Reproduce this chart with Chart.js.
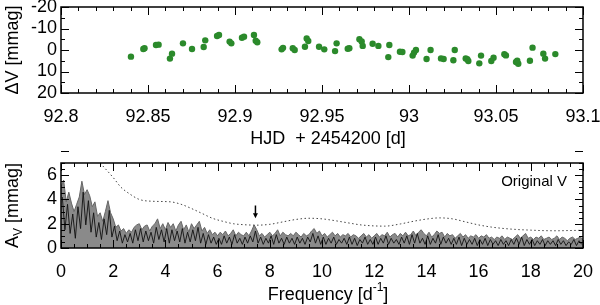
<!DOCTYPE html>
<html lang="en">
<head>
<meta charset="UTF-8">
<script src="https://cdn.jsdelivr.net/npm/chart.js"></script>
<title>Light curve and amplitude spectrum</title>
<style>
  body { margin: 0; background: #fff; }
  #wrap { position: relative; width: 600px; height: 305px; overflow: hidden; }
  canvas { position: absolute; left: 0; }
</style>
</head>
<body>
<div id="wrap">
  <canvas id="lc" width="600" height="150" style="top:0"></canvas>
  <canvas id="spec" width="600" height="155" style="top:150px"></canvas>
</div>
<script>
// light curve, HJD - 2454200 and delta V in mmag
const hjd = [92.8402, 92.8473, 92.848, 92.8546, 92.8561, 92.8626, 92.8638, 92.8701, 92.8753, 92.882,
  92.8829, 92.8897, 92.8908, 92.8969, 92.8979, 92.904, 92.9052, 92.9109, 92.9119, 92.9128,
  92.9268, 92.9276, 92.9332, 92.9343, 92.9402, 92.9412, 92.9421, 92.9483, 92.9513, 92.9575,
  92.9584, 92.9648, 92.9657, 92.9715, 92.9728, 92.9734, 92.9791, 92.9824, 92.9887, 92.9881,
  92.9948, 92.9962, 93.0021, 93.0029, 93.004, 93.0101, 93.0124, 93.0184, 93.0199, 93.0255,
  93.0263, 93.0326, 93.0341, 93.0335, 93.0404, 93.0414, 93.0473, 93.0486, 93.0548, 93.0557,
  93.0615, 93.0628, 93.0622, 93.0695, 93.071, 93.0772, 93.0782, 93.0841];
const dV = [3.1, -0.5, -0.8, -2.3, -2.5, 4.0, 1.7, -3.1, -0.5, -1.4,
  -4.5, -6.5, -7.0, -3.9, -3.1, -5.7, -6.2, -7.0, -4.3, -3.6,
  -0.3, -1.0, -0.8, 0.0, -1.5, -5.4, -4.2, -1.5, -0.3, 0.5,
  -3.1, -0.6, -0.8, -5.0, -4.0, -1.9, -2.9, -1.9, -2.3, 3.3,
  0.8, 0.9, 2.6, 1.2, 0.0, 4.2, 0.0, 3.9, 4.2, 4.8,
  0.0, 3.9, 5.1, 4.3, 6.2, 2.6, 5.1, 3.6, 2.0, 2.5,
  5.6, 6.4, 5.0, 5.0, -1.1, 1.7, 4.0, 1.9];
const hjdTicks = [92.8, 92.85, 92.9, 92.95, 93, 93.05, 93.1];
const dVTicks = [-20, -10, 0, 10, 20];

// amplitude spectrum, sampled every 0.1 d^-1
// grey band (upper envelope of the spectra), from 0.0 to 20.0
const specGrey = [
  5.0, 5.6, 3.8, 4.6, 3.7, 3.0, 3.6, 4.2, 5.5, 4.4,
  4.8, 4.3, 3.4, 3.8, 2.6, 2.9, 2.2, 3.0, 3.9, 2.9,
  2.4, 1.7, 1.9, 1.4, 1.6, 1.2, 1.5, 1.3, 1.7, 1.9,
  2.0, 1.5, 1.8, 1.9, 1.4, 1.8, 2.0, 2.4, 1.6, 2.0,
  1.5, 2.1, 1.7, 2.0, 1.4, 1.9, 2.2, 1.5, 1.9, 1.3,
  2.0, 1.6, 1.9, 2.2, 1.4, 1.7, 1.2, 1.5, 1.1, 1.3,
  1.0, 1.3, 1.1, 1.4, 1.0, 1.2, 1.5, 1.0, 1.3, 1.1,
  1.0, 1.3, 1.0, 1.4, 1.9, 1.5, 1.0, 1.2, 0.9, 1.1,
  1.3, 1.0, 1.2, 1.5, 1.0, 1.3, 1.1, 1.0, 1.2, 1.0,
  1.3, 1.1, 0.9, 1.2, 1.0, 1.1, 1.4, 1.6, 1.2, 1.4,
  1.0, 1.2, 0.9, 1.1, 1.3, 1.0, 1.2, 0.9, 1.1, 1.0,
  1.2, 0.9, 1.1, 1.0, 0.8, 1.0, 1.2, 0.9, 1.1, 0.8,
  1.0, 1.2, 0.9, 1.1, 1.0, 1.3, 0.9, 1.1, 1.2, 0.9,
  1.2, 1.0, 1.3, 1.0, 1.1, 1.4, 1.0, 1.3, 1.5, 1.2,
  1.0, 1.3, 0.9, 1.1, 1.4, 1.2, 1.3, 0.9, 1.2, 1.0,
  1.1, 0.8, 1.0, 1.2, 0.9, 1.1, 0.8, 1.0, 0.9, 1.1,
  0.8, 1.0, 0.9, 1.1, 0.8, 0.9, 0.7, 0.9, 0.8, 1.0,
  0.7, 0.9, 0.8, 0.7, 0.9, 1.1, 0.8, 1.0, 1.2, 0.8,
  0.9, 0.7, 0.9, 0.8, 1.0, 0.7, 0.8, 0.9, 0.7, 0.8,
  1.0, 0.7, 0.9, 0.8, 0.6, 0.8, 0.9, 0.7, 0.8, 0.9,
  0.7];
// black spectrum, from 0.05 to 19.95
const specBlack = [
  4.2, 1.5, 3.6, 1.2, 2.8, 0.8, 3.4, 1.6, 4.6, 1.9,
  3.9, 1.3, 2.9, 0.9, 2.1, 0.7, 2.4, 1.1, 3.1, 0.9,
  1.8, 0.6, 1.4, 0.4, 1.1, 0.5, 1.2, 0.4, 1.5, 0.6,
  1.6, 0.5, 1.4, 0.6, 1.3, 0.4, 1.7, 0.7, 1.5, 0.5,
  1.6, 0.4, 1.5, 0.6, 1.4, 0.5, 1.6, 0.4, 1.3, 0.5,
  1.5, 0.6, 1.7, 0.4, 1.2, 0.3, 1.1, 0.4, 0.9, 0.3,
  0.8, 0.3, 1.0, 0.4, 0.9, 0.3, 1.1, 0.4, 0.8, 0.3,
  0.9, 0.4, 1.0, 0.5, 1.4, 0.4, 0.9, 0.3, 0.8, 0.4,
  1.0, 0.3, 1.1, 0.4, 0.8, 0.3, 0.9, 0.4, 0.8, 0.3,
  0.9, 0.4, 0.8, 0.3, 0.9, 0.5, 1.2, 0.4, 1.0, 0.3,
  0.9, 0.3, 0.8, 0.4, 0.9, 0.3, 0.7, 0.4, 0.8, 0.3,
  0.9, 0.3, 0.8, 0.2, 0.7, 0.4, 0.9, 0.3, 0.7, 0.3,
  0.9, 0.3, 0.8, 0.4, 1.0, 0.3, 0.8, 0.4, 0.7, 0.3,
  0.9, 0.4, 1.0, 0.3, 1.1, 0.4, 1.2, 0.4, 0.8, 0.3,
  1.0, 0.3, 0.8, 0.4, 1.1, 0.3, 0.9, 0.4, 0.8, 0.3,
  0.8, 0.3, 0.9, 0.2, 0.8, 0.3, 0.7, 0.3, 0.8, 0.2,
  0.7, 0.3, 0.8, 0.2, 0.7, 0.3, 0.6, 0.2, 0.7, 0.3,
  0.6, 0.2, 0.7, 0.3, 0.8, 0.3, 0.9, 0.2, 0.7, 0.3,
  0.7, 0.2, 0.6, 0.3, 0.7, 0.2, 0.6, 0.3, 0.6, 0.2,
  0.7, 0.3, 0.6, 0.2, 0.5, 0.3, 0.7, 0.2, 0.6, 0.3];
const specStep = 0.1;

// significance level (dotted)
const sigFreq = [1.5, 2.0, 2.3, 2.6, 3.0, 3.5, 4.2, 4.6, 5.0, 5.4, 5.8, 6.2, 6.6, 7.0, 7.5, 8.0, 8.5, 9.0, 9.5, 10.0,
  10.5, 11.0, 11.5, 12.0, 12.4, 13.0, 13.5, 14.0, 14.5, 15.0, 15.5, 16.0, 16.5, 17.0, 17.5, 18.0, 18.5, 19.0, 19.5, 20.0];
const sigAmp = [7.0, 5.8, 5.0, 4.5, 4.0, 3.85, 3.8, 3.6, 3.25, 2.85, 2.45, 2.2, 2.0, 1.92, 1.88, 1.95, 2.15, 2.35, 2.45, 2.4,
  2.25, 2.07, 1.9, 1.82, 1.8, 1.98, 2.2, 2.38, 2.48, 2.4, 2.15, 1.9, 1.72, 1.6, 1.52, 1.47, 1.43, 1.42, 1.44, 1.46];
const freqTicks = [0, 2, 4, 6, 8, 10, 12, 14, 16, 18, 20];
const ampTicks = [0, 2, 4, 6];
const arrowFreq = 7.45, arrowFrom = 3.5, arrowTo = 2.45;

Chart.defaults.font.family = "'Liberation Sans', Arial, sans-serif";
Chart.defaults.font.size = 18;
Chart.defaults.color = '#000';

// inward ticks on all four sides plus the box
const frameTicks = {
  id: 'frameTicks',
  afterDraw(chart, args, o) {
    const {ctx, chartArea: a} = chart;
    const xs = chart.scales.x, ys = chart.scales.y;
    ctx.save();
    ctx.strokeStyle = '#000';
    ctx.lineWidth = 1;
    ctx.beginPath();
    const marks = (sc, step, len, horiz) => {
      const n = Math.round((sc.max - sc.min) / step);
      for (let i = 0; i <= n; i++) {
        const p = Math.round(sc.getPixelForValue(sc.min + i * step)) + 0.5;
        if (horiz) {
          ctx.moveTo(p, a.bottom); ctx.lineTo(p, a.bottom - len);
          ctx.moveTo(p, a.top); ctx.lineTo(p, a.top + len);
        } else {
          ctx.moveTo(a.left, p); ctx.lineTo(a.left + len, p);
          ctx.moveTo(a.right, p); ctx.lineTo(a.right - len, p);
        }
      }
    };
    marks(xs, o.xMinor, 4, true);
    marks(xs, o.xMajor, 8, true);
    marks(ys, o.yMinor, 4, false);
    marks(ys, o.yMajor, 8, false);
    ctx.stroke();
    ctx.lineWidth = 1.5;
    ctx.strokeRect(a.left, a.top, a.width, a.height);
    ctx.restore();
  }
};

// axis titles with optional sub/superscripts
function drawParts(ctx, parts, cx, cy, rot) {
  ctx.save();
  ctx.translate(cx, cy);
  if (rot) ctx.rotate(-Math.PI / 2);
  ctx.fillStyle = '#000';
  ctx.textBaseline = 'middle';
  ctx.textAlign = 'left';
  const fontOf = p => ((p.sub || p.sup) ? 12 : 18) + "px 'Liberation Sans', Arial, sans-serif";
  let total = 0;
  parts.forEach(p => { ctx.font = fontOf(p); total += ctx.measureText(p.t).width; });
  let x = -total / 2;
  parts.forEach(p => {
    ctx.font = fontOf(p);
    const dy = p.sub ? 6 : (p.sup ? -7 : 0);
    ctx.fillText(p.t, x, dy);
    x += ctx.measureText(p.t).width;
  });
  ctx.restore();
}

const axisTitles = {
  id: 'axisTitles',
  afterDraw(chart, args, o) {
    const {ctx, chartArea: a} = chart;
    drawParts(ctx, o.x, (a.left + a.right) / 2 + 6, o.xAt, false);
    drawParts(ctx, o.y, 13, (a.top + a.bottom) / 2, true);
  }
};

const markers = {
  id: 'markers',
  afterDatasetsDraw(chart) {
    const {ctx, chartArea: a} = chart;
    const xs = chart.scales.x, ys = chart.scales.y;
    ctx.save();
    ctx.fillStyle = '#000';
    ctx.font = "15px 'Liberation Sans', Arial, sans-serif";
    ctx.textAlign = 'right';
    ctx.textBaseline = 'middle';
    ctx.fillText('Original V', a.right - 16, a.top + 19);
    const px = xs.getPixelForValue(arrowFreq);
    const y0 = ys.getPixelForValue(arrowFrom), y1 = ys.getPixelForValue(arrowTo);
    ctx.strokeStyle = '#000';
    ctx.lineWidth = 1.5;
    ctx.beginPath();
    ctx.moveTo(px, y0); ctx.lineTo(px, y1 - 4);
    ctx.stroke();
    ctx.beginPath();
    ctx.moveTo(px - 2.5, y1 - 5); ctx.lineTo(px + 2.5, y1 - 5); ctx.lineTo(px, y1);
    ctx.closePath();
    ctx.fill();
    ctx.restore();
  }
};

function fixBox(w, h) {
  return s => {
    if (w) s.width = w;
    if (h) s.height = h;
    s.paddingTop = 0; s.paddingBottom = 0; s.paddingLeft = 0; s.paddingRight = 0;
  };
}

new Chart(document.getElementById('lc'), {
  type: 'scatter',
  data: {
    datasets: [{
      data: hjd.map((t, i) => ({x: t, y: dV[i]})),
      backgroundColor: '#2b8a2b',
      borderColor: '#2b8a2b',
      pointRadius: 3.2,
      pointBorderWidth: 0
    }]
  },
  options: {
    responsive: false,
    animation: false,
    layout: {padding: {top: 7, right: 17, left: 0, bottom: 0}},
    plugins: {
      legend: {display: false},
      tooltip: {enabled: false},
      frameTicks: {xMajor: 0.05, xMinor: 0.01, yMajor: 10, yMinor: 5},
      axisTitles: {x: [{t: 'HJD  + 2454200 [d]'}], xAt: 139, y: [{t: 'ΔV [mmag]'}]}
    },
    scales: {
      x: {
        type: 'linear', min: 92.8, max: 93.1,
        afterBuildTicks: s => { s.ticks = hjdTicks.map(v => ({value: v})); },
        afterFit: fixBox(0, 57),
        grid: {display: false, drawTicks: false},
        border: {display: false},
        ticks: {padding: 13, maxRotation: 0, autoSkip: false,
          callback: v => String(Math.round(v * 100) / 100)}
      },
      y: {
        min: -20, max: 20, reverse: true,
        afterBuildTicks: s => { s.ticks = dVTicks.map(v => ({value: v})); },
        afterFit: fixBox(61, 0),
        grid: {display: false, drawTicks: false},
        border: {display: false},
        ticks: {padding: 4, autoSkip: false, font: {lineHeight: 1}}
      }
    }
  },
  plugins: [frameTicks, axisTitles]
});

new Chart(document.getElementById('spec'), {
  type: 'line',
  data: {
    datasets: [
      {
        data: sigFreq.map((f, i) => ({x: f, y: sigAmp[i]})),
        borderColor: '#444',
        borderWidth: 1,
        borderDash: [1.5, 2.5],
        pointRadius: 0,
        cubicInterpolationMode: 'monotone',
        fill: false,
        order: 0
      },
      {
        data: specBlack.map((a, i) => ({x: specStep / 2 + i * specStep, y: a})),
        borderColor: '#111',
        borderWidth: 0.9,
        pointRadius: 0,
        fill: false,
        order: 1
      },
      {
        data: specGrey.map((a, i) => ({x: i * specStep, y: a})),
        borderColor: '#666',
        backgroundColor: '#8a8a8a',
        borderWidth: 1,
        pointRadius: 0,
        fill: 'origin',
        order: 2
      }
    ]
  },
  options: {
    responsive: false,
    animation: false,
    layout: {padding: {top: 13, right: 17, left: 0, bottom: 0}},
    plugins: {
      legend: {display: false},
      tooltip: {enabled: false},
      frameTicks: {xMajor: 2, xMinor: 0.5, yMajor: 2, yMinor: 0.5},
      axisTitles: {
        x: [{t: 'Frequency [d'}, {t: '-1', sup: true}, {t: ']'}], xAt: 145,
        y: [{t: 'A'}, {t: 'V', sub: true}, {t: ' [mmag]'}]
      }
    },
    scales: {
      x: {
        type: 'linear', min: 0, max: 20,
        afterBuildTicks: s => { s.ticks = freqTicks.map(v => ({value: v})); },
        afterFit: fixBox(0, 57),
        grid: {display: false, drawTicks: false},
        border: {display: false},
        ticks: {padding: 13, maxRotation: 0, autoSkip: false}
      },
      y: {
        min: 0, max: 7,
        afterBuildTicks: s => { s.ticks = ampTicks.map(v => ({value: v})); },
        afterFit: fixBox(61, 0),
        grid: {display: false, drawTicks: false},
        border: {display: false},
        ticks: {padding: 4, autoSkip: false, font: {lineHeight: 1}}
      }
    }
  },
  plugins: [frameTicks, axisTitles, markers]
});
</script>
</body>
</html>
